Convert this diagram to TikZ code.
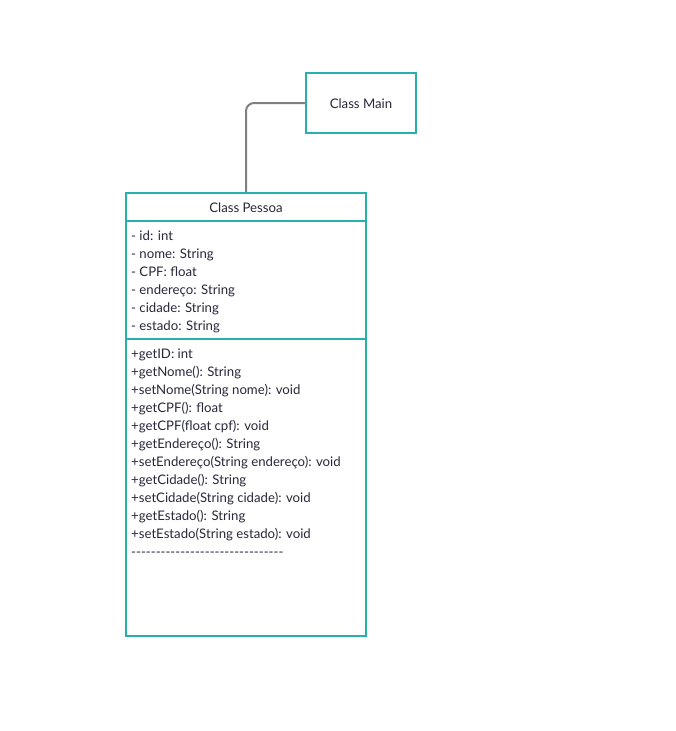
\documentclass[tikz,border=0pt]{standalone}
\usepackage{fontspec}
\setmainfont{Lato}
\definecolor{teal1}{RGB}{38,176,170}
\definecolor{txt}{RGB}{40,40,58}
\definecolor{conn}{RGB}{128,128,128}
\newcommand{\hyphenrow}{\foreach \k in {1,...,31}{\mbox{-}}}
\begin{document}
\begin{tikzpicture}[x=1pt,y=-1pt,
  classbox/.style={draw=teal1,line width=2pt,fill=white,inner sep=0pt},
  lbl/.style={anchor=base west,inner sep=0pt,text=txt,font=\fontsize{13.2}{15}\selectfont},
  ttl/.style={inner sep=0pt,text=txt,font=\fontsize{13.2}{15}\selectfont},
  sep/.style={draw=teal1,line width=2pt},
  link/.style={draw=conn,line width=2pt,rounded corners=8pt}]
\useasboundingbox (0,0) rectangle (676,731);
\node[classbox,minimum width=110pt,minimum height=60pt] (main) at (361,103) {};
\node[ttl] (maint) at (361,104) {Class Main};
\node[classbox,minimum width=240pt,minimum height=443pt] (pessoa) at (246,414.5) {};
\draw[sep] (pessoa.west |- 0,221) -- (pessoa.east |- 0,221);
\draw[sep] (pessoa.west |- 0,339) -- (pessoa.east |- 0,339);
\node[ttl] (pt) at (246,208) {Class Pessoa};
\draw[link] (main.west) -| (pessoa.north);
\foreach \t [count=\i from 0] in {- id: int,- nome: String,- CPF: float,- endereço: String,- cidade: String,- estado: String}
  \node[lbl] (a\i) at (131,240.5+18*\i) {\t};
\foreach \t [count=\i from 0] in {+getID: int,+getNome(): String,+setNome(String nome): void,+getCPF(): float,+getCPF(float cpf): void,+getEndereço(): String,+setEndereço(String endereço): void,+getCidade(): String,+setCidade(String cidade): void,+getEstado(): String,+setEstado(String estado): void}
  \node[lbl] (m\i) at (131,358.5+18*\i) {\t};
\node[lbl] (m11) at (131,358.5+18*11) {\hyphenrow};
\end{tikzpicture}
\end{document}
